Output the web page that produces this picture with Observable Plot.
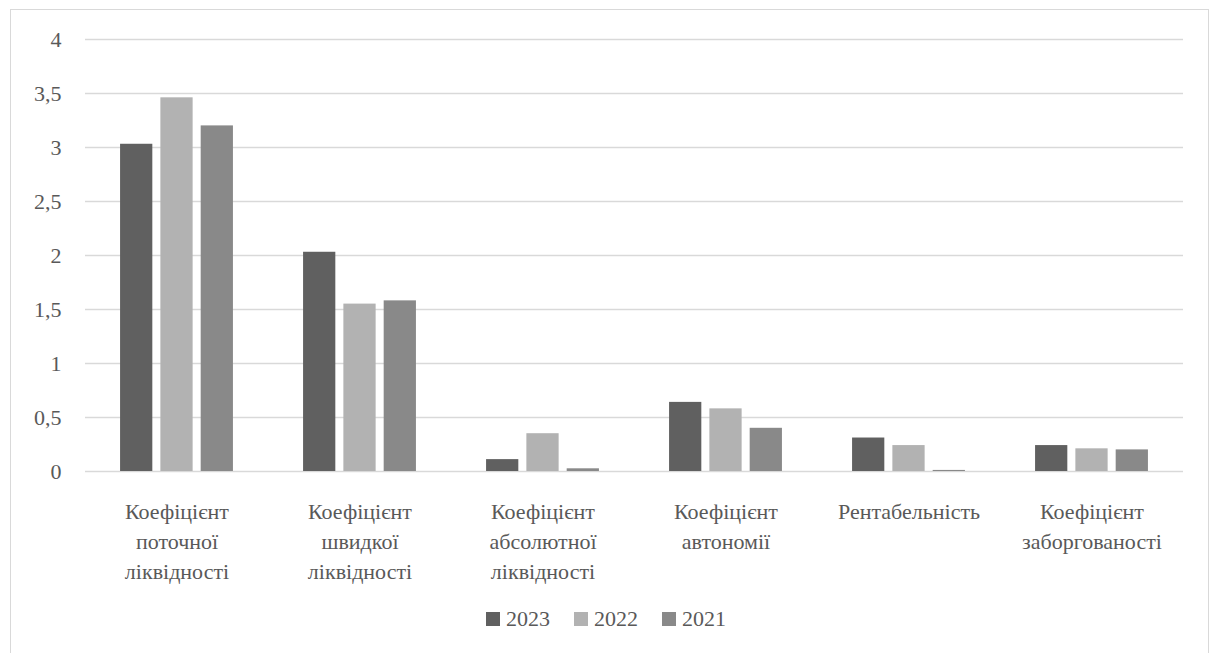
<!DOCTYPE html>
<html>
<head>
<meta charset="utf-8">
<script src="https://cdn.jsdelivr.net/npm/d3@7"></script>
<script src="https://cdn.jsdelivr.net/npm/@observablehq/plot@0.6"></script>
<style>
  html, body { margin: 0; padding: 0; background: #ffffff; }
  #frame {
    position: absolute; left: 10px; top: 9px; width: 1199px; height: 700px;
    border: 1.5px solid #d9d9d9; box-sizing: border-box;
  }
  #chart { position: absolute; left: 0; top: 0; }
  #legend {
    position: absolute; left: 0; top: 606px; width: 1212px;
    display: flex; justify-content: center; align-items: center;
    font-size: 22px; color: #595959;
  }
  #legend .item { display: flex; align-items: center; margin: 0 12px; }
  #legend .sw { width: 14px; height: 14px; margin-right: 6px; }
</style>
</head>
<body>
<div id="frame"></div>
<div id="chart"></div>
<div id="legend"></div>
<script>
// Financial ratios by year
const categories = [
  "Коефіцієнт поточної ліквідності",
  "Коефіцієнт швидкої ліквідності",
  "Коефіцієнт абсолютної ліквідності",
  "Коефіцієнт автономії",
  "Рентабельність",
  "Коефіцієнт заборгованості"
];
const years = ["2023", "2022", "2021"];
const values2023 = [3.03, 2.03, 0.11, 0.64, 0.31, 0.24];
const values2022 = [3.46, 1.55, 0.35, 0.58, 0.24, 0.21];
const values2021 = [3.20, 1.58, 0.025, 0.40, 0.01, 0.20];
const yearColors = ["#606060", "#b2b2b2", "#898989"];
const yTicks = [0, 0.5, 1, 1.5, 2, 2.5, 3, 3.5, 4];

const series = [values2023, values2022, values2021];
const rows = [];
categories.forEach((c, i) => {
  years.forEach((y, j) => rows.push({category: c, year: y, value: series[j][i]}));
});

const fmtComma = d => String(d).replace(".", ",");
const wrap = s => s.split(" ").join("\n");
const serif = "'Times New Roman', 'Liberation Serif', serif";

const plot = Plot.plot({
  width: 1212,
  height: 590,
  marginLeft: 84,
  marginRight: 29,
  marginTop: 39,
  marginBottom: 119,
  fx: {domain: categories, padding: 0, label: null},
  x: {domain: years, paddingInner: 0.2, paddingOuter: 0.87, round: false, axis: null},
  y: {domain: [0, 4], label: null},
  color: {domain: years, range: yearColors},
  marks: [
    Plot.gridY(yTicks, {stroke: "#d9d9d9", strokeOpacity: 1, strokeWidth: 1.3}),
    Plot.barY(rows, {fx: "category", x: "year", y: "value", fill: "year"}),
    Plot.axisY(yTicks, {tickSize: 0, tickPadding: 24, tickFormat: fmtComma, fontSize: 22, fill: "#595959", label: null}),
    Plot.axisFx({anchor: "bottom", tickSize: 0, tickPadding: 26, tickFormat: wrap, fontSize: 22, lineHeight: 1.36, fill: "#595959", label: null})
  ]
});
plot.style.background = "transparent";
plot.style.fontFamily = serif;
plot.querySelectorAll("g, text, tspan").forEach(el => {
  el.removeAttribute("font-family");
  el.style.fontFamily = serif;
});
document.getElementById("chart").appendChild(plot);

// Legend built from the same colour scale
const color = plot.scale("color");
const legend = d3.select("#legend").style("font-family", serif);
years.forEach(y => {
  const item = legend.append("div").attr("class", "item");
  item.append("div").attr("class", "sw").style("background", color.apply(y));
  item.append("span").style("font-family", serif).text(y);
});
</script>
</body>
</html>
